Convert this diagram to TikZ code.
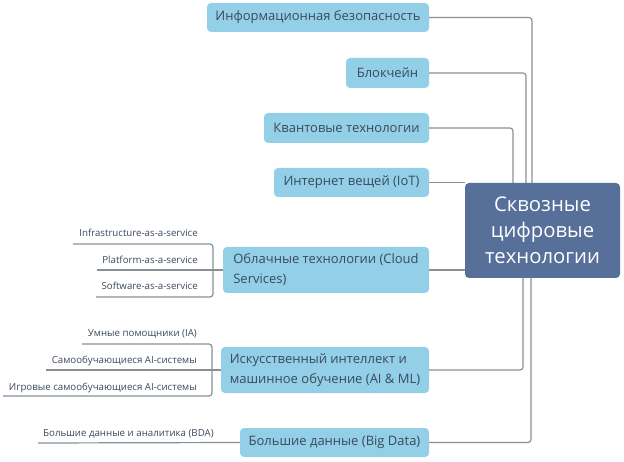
\documentclass[tikz,border=0pt]{standalone}
\usepackage{fontspec}
\setmainfont{Open Sans}
\definecolor{boxblue}{HTML}{93D0E8}
\definecolor{centerblue}{HTML}{56709A}
\definecolor{txt}{HTML}{3B495B}
\definecolor{lin}{HTML}{8A8F96}
\tikzset{
  topic/.style={draw=none,fill=boxblue,rounded corners=4pt,text=txt,font=\fontsize{13}{20}\selectfont,inner sep=0pt,align=left},
  central/.style={draw=none,fill=centerblue,rounded corners=4pt,text=white,font=\fontsize{20.3}{26}\selectfont,inner sep=0pt,align=center},
  sub/.style={text=txt,font=\fontsize{9.7}{11}\selectfont,inner sep=0pt},
  conn/.style={draw=lin,line width=1.2pt,rounded corners=3pt}
}
\begin{document}
\begin{tikzpicture}[x=1pt,y=-1pt]
\useasboundingbox (0,0) rectangle (624,462);
% nodes
\node[central,minimum width=155pt,minimum height=95pt] (c) at (542.5,230.5) {Сквозные\\цифровые\\технологии};
\node[topic,minimum width=222pt,minimum height=29pt] (info) at (318,17.5) {Информационная безопасность};
\node[topic,minimum width=83pt,minimum height=30pt] (block) at (387.5,73) {Блокчейн};
\node[topic,minimum width=165pt,minimum height=30pt] (quant) at (346.5,128) {Квантовые технологии};
\node[topic,minimum width=155pt,minimum height=29pt] (iot) at (351.5,182.5) {Интернет вещей (IoT)};
\node[topic,minimum width=206pt,minimum height=46pt] (cloud) at (326,270) {Облачные технологии (Cloud\\Services)};
\node[topic,minimum width=208pt,minimum height=46pt] (ai) at (325,370) {Искусственный интеллект и\\машинное обучение (AI \& ML)};
\node[topic,minimum width=189pt,minimum height=29pt] (bd) at (334.5,442.5) {Большие данные (Big Data)};
% sub labels
\node[sub,anchor=base east] (iaas) at (198,237) {Infrastructure-as-a-service};
\node[sub,anchor=base east] (paas) at (198,264) {Platform-as-a-service};
\node[sub,anchor=base east] (saas) at (198,290) {Software-as-a-service};
\node[sub,anchor=base east] (ia) at (197,337) {Умные помощники (IA)};
\node[sub,anchor=base east] (sai) at (197,363) {Самообучающиеся AI-системы};
\node[sub,anchor=base east] (gai) at (197,390) {Игровые самообучающиеся AI-системы};
\node[sub,anchor=base west] (bda) at (43,436) {Большие данные и аналитика (BDA)};
% line ends
\coordinate (cb) at (213,270);
\coordinate (iaasend) at (73,244);
\coordinate (paasend) at (97,270);
\coordinate (saasend) at (96,297);
\coordinate (ab) at (212,370);
\coordinate (iaend) at (82,344);
\coordinate (saiend) at (46,370);
\coordinate (gaiend) at (3,396);
\coordinate (bdaend) at (38,443);
% connectors
\draw[conn] (info.east) -| ([xshift=-10.5pt]c.north);
\draw[conn] (block.east) -| ([xshift=-16.5pt]c.north);
\draw[conn] (quant.east) -| ([xshift=-29.5pt]c.north);
\draw[conn] (iot.east) -- (iot.east -| c.west);
\draw[conn] (cloud.east) -- (cloud.east -| c.west);
\draw[conn] (ai.east) -| ([xshift=-19.5pt]c.south);
\draw[conn] (bd.east) -| ([xshift=-11.5pt]c.south);
\draw[conn] (cloud.west) -- (paasend);
\draw[conn] (cb) |- (iaasend);
\draw[conn] (cb) |- (saasend);
\draw[conn] (ai.west) -- (saiend);
\draw[conn] (ab) |- (iaend);
\draw[conn] (ab) |- (gaiend);
\draw[conn] (bd.west) -- (bdaend);
\end{tikzpicture}
\end{document}
